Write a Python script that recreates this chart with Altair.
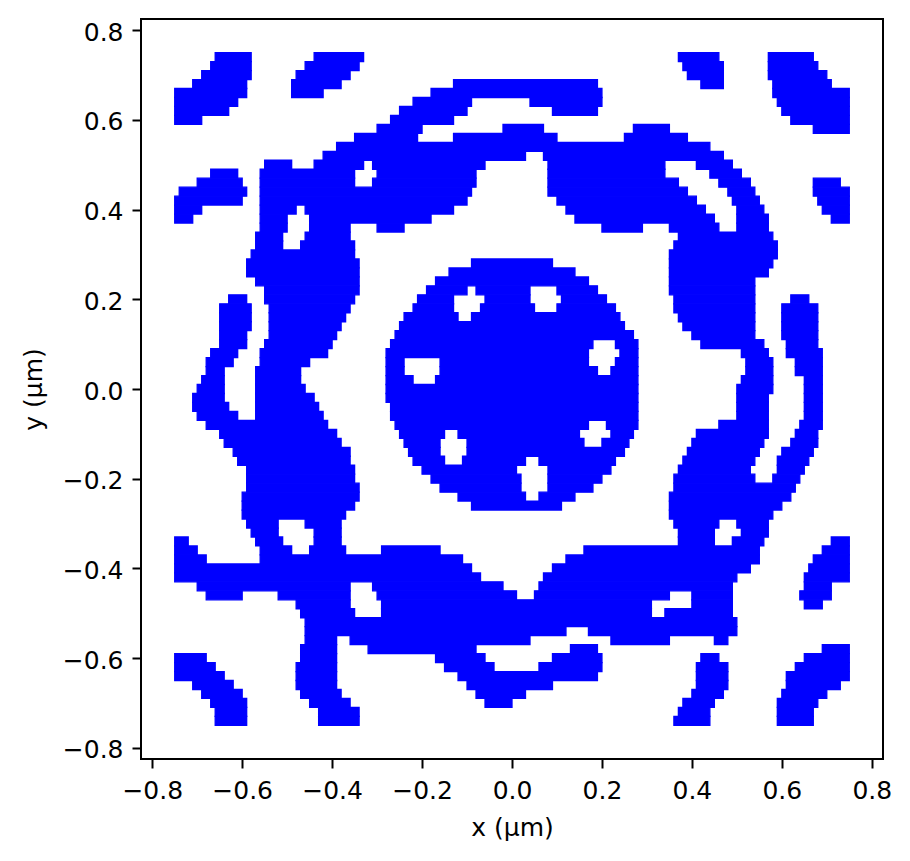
import altair as alt
import pandas as pd

# Blue (filled) parts of the pattern.
# Each row is 0.02 um high; a row lists its filled spans as (x start, x end) in um.
row_height = 0.02

y_top = [0.74, 0.72, 0.70, 0.68, 0.66, 0.64, 0.62, 0.60, 0.58, 0.56,
         0.54, 0.52, 0.50, 0.48, 0.46, 0.44, 0.42, 0.40, 0.38, 0.36,
         0.34, 0.32, 0.30, 0.28, 0.26]
spans_top = [
    [(-0.66, -0.58), (-0.44, -0.33), (0.37, 0.46), (0.57, 0.67)],
    [(-0.67, -0.58), (-0.46, -0.34), (0.38, 0.47), (0.57, 0.68)],
    [(-0.69, -0.58), (-0.48, -0.36), (0.39, 0.47), (0.57, 0.70)],
    [(-0.71, -0.59), (-0.49, -0.38), (-0.13, 0.19), (0.42, 0.47), (0.58, 0.71)],
    [(-0.75, -0.59), (-0.49, -0.42), (-0.18, 0.20), (0.58, 0.75)],
    [(-0.75, -0.61), (-0.22, -0.09), (0.04, 0.20), (0.59, 0.75)],
    [(-0.75, -0.63), (-0.25, -0.10), (0.09, 0.19), (0.60, 0.75)],
    [(-0.75, -0.69), (-0.27, -0.13), (0.62, 0.75)],
    [(-0.30, -0.20), (-0.02, 0.07), (0.27, 0.35), (0.67, 0.75)],
    [(-0.35, -0.21), (-0.13, 0.10), (0.25, 0.39)],
    [(-0.39, 0.44)],
    [(-0.42, 0.03), (0.07, 0.47)],
    [(-0.55, -0.49), (-0.44, -0.33), (-0.31, -0.06), (0.08, 0.34), (0.41, 0.49)],
    [(-0.67, -0.61), (-0.56, -0.35), (-0.30, -0.08), (0.08, 0.34), (0.44, 0.51)],
    [(-0.70, -0.60), (-0.56, -0.35), (-0.31, -0.08), (0.08, 0.37), (0.46, 0.53), (0.67, 0.73)],
    [(-0.74, -0.59), (-0.56, -0.09), (0.08, 0.39), (0.48, 0.54), (0.67, 0.75)],
    [(-0.75, -0.60), (-0.56, -0.10), (0.10, 0.41), (0.49, 0.55), (0.68, 0.75)],
    [(-0.75, -0.69), (-0.56, -0.48), (-0.46, -0.13), (0.12, 0.43), (0.50, 0.56), (0.69, 0.75)],
    [(-0.75, -0.71), (-0.56, -0.50), (-0.45, -0.18), (0.14, 0.45), (0.50, 0.57), (0.71, 0.75)],
    [(-0.56, -0.50), (-0.45, -0.36), (-0.30, -0.24), (0.20, 0.29), (0.35, 0.46), (0.50, 0.57)],
    [(-0.57, -0.51), (-0.46, -0.36), (0.37, 0.58)],
    [(-0.57, -0.51), (-0.47, -0.35), (0.36, 0.59)],
    [(-0.58, -0.35), (0.35, 0.59)],
    [(-0.59, -0.34), (-0.09, 0.09), (0.35, 0.58)],
    [(-0.59, -0.34), (-0.14, 0.14), (0.35, 0.57)],
]

y_mid = [0.24, 0.22, 0.20, 0.18, 0.16, 0.14, 0.12, 0.10, 0.08, 0.06,
         0.04, 0.02, 0.00, -0.02, -0.04, -0.06, -0.08, -0.10, -0.12, -0.14,
         -0.16, -0.18, -0.20, -0.22, -0.24]
spans_mid = [
    [(-0.57, -0.34), (-0.17, 0.17), (0.35, 0.54)],
    [(-0.55, -0.34), (-0.19, -0.10), (-0.08, 0.04), (0.10, 0.19), (0.35, 0.54)],
    [(-0.63, -0.59), (-0.55, -0.35), (-0.21, -0.13), (-0.06, 0.04), (0.11, 0.21), (0.36, 0.54), (0.62, 0.66)],
    [(-0.65, -0.58), (-0.54, -0.36), (-0.22, -0.13), (-0.07, 0.05), (0.10, 0.23), (0.36, 0.54), (0.60, 0.68)],
    [(-0.65, -0.58), (-0.54, -0.37), (-0.24, -0.12), (-0.09, 0.24), (0.37, 0.54), (0.60, 0.68)],
    [(-0.65, -0.58), (-0.54, -0.38), (-0.25, 0.25), (0.38, 0.54), (0.60, 0.68)],
    [(-0.65, -0.59), (-0.54, -0.39), (-0.26, 0.27), (0.40, 0.54), (0.60, 0.68)],
    [(-0.65, -0.59), (-0.55, -0.40), (-0.27, 0.18), (0.23, 0.28), (0.42, 0.56), (0.61, 0.68)],
    [(-0.67, -0.61), (-0.56, -0.41), (-0.28, 0.17), (0.24, 0.28), (0.51, 0.57), (0.61, 0.69)],
    [(-0.68, -0.62), (-0.56, -0.45), (-0.28, -0.24), (-0.16, 0.17), (0.23, 0.28), (0.52, 0.58), (0.63, 0.69)],
    [(-0.68, -0.64), (-0.57, -0.47), (-0.28, -0.24), (-0.16, 0.19), (0.22, 0.28), (0.52, 0.58), (0.63, 0.69)],
    [(-0.69, -0.64), (-0.57, -0.47), (-0.28, -0.22), (-0.17, 0.28), (0.51, 0.58), (0.65, 0.69)],
    [(-0.70, -0.64), (-0.57, -0.46), (-0.28, 0.28), (0.50, 0.58), (0.65, 0.69)],
    [(-0.71, -0.64), (-0.57, -0.44), (-0.28, 0.28), (0.50, 0.57), (0.65, 0.69)],
    [(-0.71, -0.63), (-0.57, -0.43), (-0.27, 0.28), (0.50, 0.57), (0.65, 0.69)],
    [(-0.70, -0.61), (-0.57, -0.42), (-0.27, 0.28), (0.50, 0.57), (0.65, 0.69)],
    [(-0.68, -0.41), (-0.26, 0.17), (0.21, 0.28), (0.46, 0.57), (0.64, 0.69)],
    [(-0.65, -0.39), (-0.25, -0.15), (-0.12, 0.15), (0.22, 0.27), (0.41, 0.57), (0.63, 0.68)],
    [(-0.64, -0.38), (-0.24, -0.16), (-0.10, 0.16), (0.20, 0.26), (0.40, 0.56), (0.62, 0.68)],
    [(-0.62, -0.36), (-0.23, -0.16), (-0.10, 0.25), (0.39, 0.55), (0.60, 0.67)],
    [(-0.61, -0.36), (-0.22, -0.15), (-0.11, 0.03), (0.06, 0.23), (0.38, 0.54), (0.59, 0.66)],
    [(-0.59, -0.35), (-0.20, 0.01), (0.08, 0.22), (0.37, 0.53), (0.59, 0.65)],
    [(-0.59, -0.35), (-0.18, 0.02), (0.08, 0.20), (0.36, 0.54), (0.58, 0.64)],
    [(-0.59, -0.34), (-0.16, 0.02), (0.08, 0.18), (0.36, 0.63)],
    [(-0.60, -0.34), (-0.12, 0.03), (0.06, 0.14), (0.35, 0.62)],
]

y_bottom = [-0.26, -0.28, -0.30, -0.32, -0.34, -0.36, -0.38, -0.40, -0.42, -0.44,
            -0.46, -0.48, -0.50, -0.52, -0.54, -0.56, -0.58, -0.60, -0.62, -0.64,
            -0.66, -0.68, -0.70, -0.72, -0.74]
spans_bottom = [
    [(-0.60, -0.35), (-0.09, 0.11), (0.35, 0.60)],
    [(-0.60, -0.37), (0.35, 0.58)],
    [(-0.59, -0.52), (-0.46, -0.38), (0.36, 0.46), (0.50, 0.57)],
    [(-0.58, -0.52), (-0.44, -0.38), (0.37, 0.45), (0.51, 0.57)],
    [(-0.75, -0.72), (-0.57, -0.51), (-0.44, -0.38), (0.37, 0.45), (0.49, 0.56), (0.71, 0.75)],
    [(-0.75, -0.70), (-0.56, -0.49), (-0.45, -0.37), (-0.29, -0.16), (0.16, 0.55), (0.69, 0.75)],
    [(-0.75, -0.68), (-0.56, -0.11), (0.12, 0.55), (0.67, 0.75)],
    [(-0.75, -0.09), (0.09, 0.53), (0.66, 0.75)],
    [(-0.75, -0.07), (0.07, 0.50), (0.65, 0.75)],
    [(-0.70, -0.36), (-0.31, -0.02), (0.06, 0.49), (0.65, 0.71)],
    [(-0.68, -0.60), (-0.52, -0.36), (-0.30, 0.01), (0.05, 0.35), (0.40, 0.49), (0.64, 0.71)],
    [(-0.48, -0.36), (-0.29, 0.31), (0.40, 0.49), (0.65, 0.69)],
    [(-0.47, -0.35), (-0.29, 0.31), (0.34, 0.49)],
    [(-0.46, 0.50)],
    [(-0.46, 0.12), (0.17, 0.50)],
    [(-0.46, -0.39), (-0.36, 0.04), (0.22, 0.35), (0.45, 0.48)],
    [(-0.47, -0.39), (-0.32, -0.08), (0.13, 0.19), (0.69, 0.75)],
    [(-0.75, -0.68), (-0.47, -0.39), (-0.17, -0.06), (0.09, 0.20), (0.42, 0.46), (0.65, 0.75)],
    [(-0.75, -0.66), (-0.48, -0.39), (-0.15, -0.04), (0.06, 0.20), (0.41, 0.48), (0.63, 0.75)],
    [(-0.75, -0.64), (-0.48, -0.39), (-0.12, 0.19), (0.41, 0.48), (0.61, 0.75)],
    [(-0.71, -0.62), (-0.48, -0.39), (-0.10, 0.09), (0.41, 0.48), (0.61, 0.73)],
    [(-0.69, -0.60), (-0.47, -0.38), (-0.08, 0.03), (0.40, 0.47), (0.60, 0.70)],
    [(-0.67, -0.59), (-0.45, -0.36), (-0.06, 0.00), (0.38, 0.45), (0.59, 0.68)],
    [(-0.66, -0.59), (-0.43, -0.34), (0.37, 0.44), (0.59, 0.67)],
    [(-0.66, -0.59), (-0.43, -0.34), (0.36, 0.44), (0.59, 0.67)],
]

ticks = [-0.8, -0.6, -0.4, -0.2, 0.0, 0.2, 0.4, 0.6, 0.8]
extent = [-0.825, 0.825]

records = []
for ys, spans in ((y_top, spans_top), (y_mid, spans_mid), (y_bottom, spans_bottom)):
    for y, row in zip(ys, spans):
        for x0, x1 in row:
            records.append({"x0": x0, "x1": x1,
                            "y0": y - row_height / 2, "y1": y + row_height / 2})
df = pd.DataFrame(records)

FONT = "DejaVu Sans"
FS = 25

axis_common = dict(
    values=ticks, format=".1f", grid=False, domain=False,
    tickSize=9, tickWidth=2, tickColor="black",
    labelFont=FONT, labelFontSize=FS, labelColor="black",
    labelFlush=False, labelOverlap=False, labelBound=False,
    titleFont=FONT, titleFontSize=FS, titleFontWeight="normal", titleColor="black",
)

# a stroke of the fill colour closes the hairline seams between rows
chart = alt.Chart(df).mark_rect(
    color="#0000ff", stroke="#0000ff", strokeWidth=1.3
).encode(
    x=alt.X("x0:Q", scale=alt.Scale(domain=extent, nice=False, zero=False),
            axis=alt.Axis(title="x (µm)", labelPadding=10,
                          titleX=371, titleY=76, titleAlign="center",
                          titleBaseline="alphabetic", **axis_common)),
    x2="x1:Q",
    y=alt.Y("y0:Q", scale=alt.Scale(domain=extent, nice=False, zero=False),
            axis=alt.Axis(title="y (µm)", labelPadding=9, labelOffset=2,
                          titleX=-100, titleY=370, titleAngle=270, titleAlign="center",
                          titleBaseline="alphabetic", **axis_common)),
    y2="y1:Q",
).properties(
    width=742,
    height=740,
    autosize=alt.AutoSizeParams(type="none"),
    padding={"left": 133, "top": 11, "right": 10, "bottom": 85},
).configure_view(
    stroke="black", strokeWidth=2
)

chart.save("out.html", embed_options={"renderer": "svg", "actions": False})
